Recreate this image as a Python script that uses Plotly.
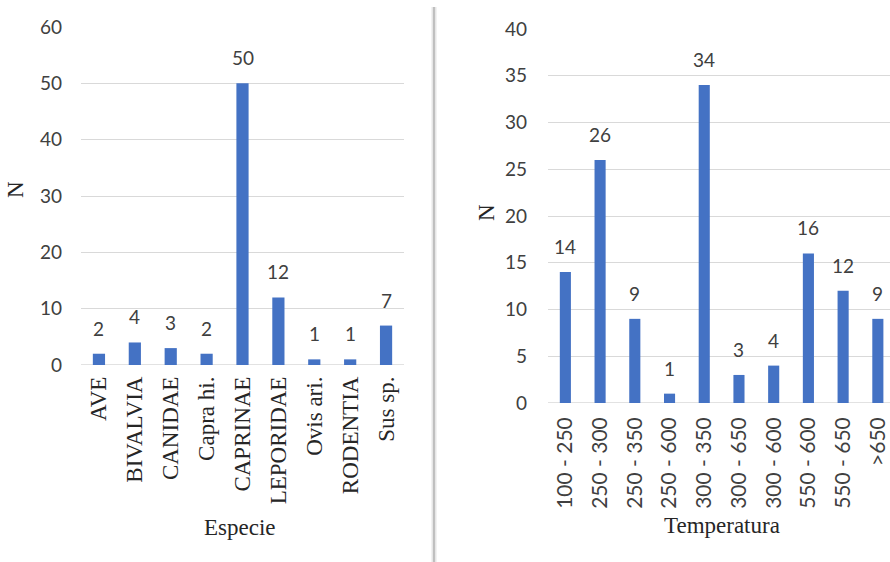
import plotly.graph_objects as go

# Species counts
especies = ["AVE", "BIVALVIA", "CANIDAE", "Capra hi.", "CAPRINAE",
            "LEPORIDAE", "Ovis ari.", "RODENTIA", "Sus sp."]
n_especie = [2, 4, 3, 2, 50, 12, 1, 1, 7]

# Temperature range counts
temperaturas = ["100 - 250", "250 - 300", "250 - 350", "250 - 600", "300 - 350",
                "300 - 650", "300 - 600", "550 - 600", "550 - 650", ">650"]
n_temp = [14, 26, 9, 1, 34, 3, 4, 16, 12, 9]

left_ticks = [0, 10, 20, 30, 40, 50, 60]
right_ticks = [0, 5, 10, 15, 20, 25, 30, 35, 40]

W, H = 890, 562
BLUE = "#4472C4"
GRID = "#d9d9d9"
SERIF = "Liberation Serif, Times New Roman, serif"
SANS = "Lato, Carlito, sans-serif"
TXT = "#262626"
TXT2 = "#404040"


def px(x):
    return x / W


def py(y):
    return 1 - y / H


fig = go.Figure()

fig.add_trace(go.Bar(
    x=especies, y=n_especie, xaxis="x", yaxis="y", width=0.34,
    marker=dict(color=BLUE, line=dict(width=0)), showlegend=False,
))
fig.add_trace(go.Bar(
    x=temperaturas, y=n_temp, xaxis="x2", yaxis="y2", width=0.32,
    marker=dict(color=BLUE, line=dict(width=0)), showlegend=False,
))

# Value labels above each bar
for cats, vals, xr, yr in [(especies, n_especie, "x", "y"),
                           (temperaturas, n_temp, "x2", "y2")]:
    for c, v in zip(cats, vals):
        fig.add_annotation(x=c, y=v, xref=xr, yref=yr, text=str(v),
                           showarrow=False, xanchor="center", yanchor="bottom",
                           yshift=12,
                           font=dict(family=SANS, size=19, color=TXT2))

axis_common = dict(showline=False, zeroline=False, ticks="", automargin=False)

fig.update_layout(
    template="none",
    width=W, height=H,
    margin=dict(l=0, r=0, t=0, b=0),
    paper_bgcolor="white", plot_bgcolor="white",
    font=dict(family=SERIF, color=TXT),
    xaxis=dict(domain=[px(81), px(404)], anchor="y", type="category",
               range=[-0.5, 8.5], tickangle=-90, showgrid=False,
               tickfont=dict(family=SERIF, size=23, color=TXT),
               ticklabelstandoff=6, **axis_common),
    yaxis=dict(domain=[py(365), py(27)], anchor="x", range=[0, 60],
               tickvals=left_ticks, showgrid=True, gridcolor=GRID, gridwidth=1,
               tickfont=dict(family=SANS, size=19, color=TXT2),
               ticklabelstandoff=18, **axis_common),
    xaxis2=dict(domain=[px(548), 1.0], anchor="y2", type="category",
                range=[-0.5, 9.35], tickangle=-90, showgrid=False,
                tickfont=dict(family=SANS, size=21, color=TXT2),
                ticklabelstandoff=9, **axis_common),
    yaxis2=dict(domain=[py(403), py(29)], anchor="x2", range=[0, 40],
                tickvals=right_ticks, showgrid=True, gridcolor=GRID, gridwidth=1,
                tickfont=dict(family=SANS, size=19, color=TXT2),
                ticklabelstandoff=20, **axis_common),
)

# Baselines at zero
for xr, yr, x0, x1 in [("x", "y", -0.5, 8.5), ("x2", "y2", -0.5, 9.35)]:
    fig.add_shape(type="line", xref=xr, yref=yr, x0=x0, x1=x1, y0=0, y1=0,
                  line=dict(color=GRID, width=1.5), layer="below")

# Divider between the two panels
fig.add_shape(type="rect", xref="paper", yref="paper",
              x0=px(431.5), x1=px(436.5), y0=0, y1=py(7),
              fillcolor="#e6e6e6", line=dict(width=0))
fig.add_shape(type="line", xref="paper", yref="paper",
              x0=px(434), x1=px(434), y0=0, y1=py(7),
              line=dict(color="#a6a6a6", width=1.2))

# Axis titles
titles = [
    ("N", 15, 190, -90),
    ("N", 487, 213, -90),
    ("Especie", 240, 527, 0),
    ("Temperatura", 722, 525, 0),
]
for text, x, y, ang in titles:
    fig.add_annotation(text=text, xref="paper", yref="paper",
                       x=px(x), y=py(y), xanchor="center", yanchor="middle",
                       showarrow=False, textangle=ang,
                       font=dict(family=SERIF, size=23, color=TXT))

fig.write_html("out.html")
